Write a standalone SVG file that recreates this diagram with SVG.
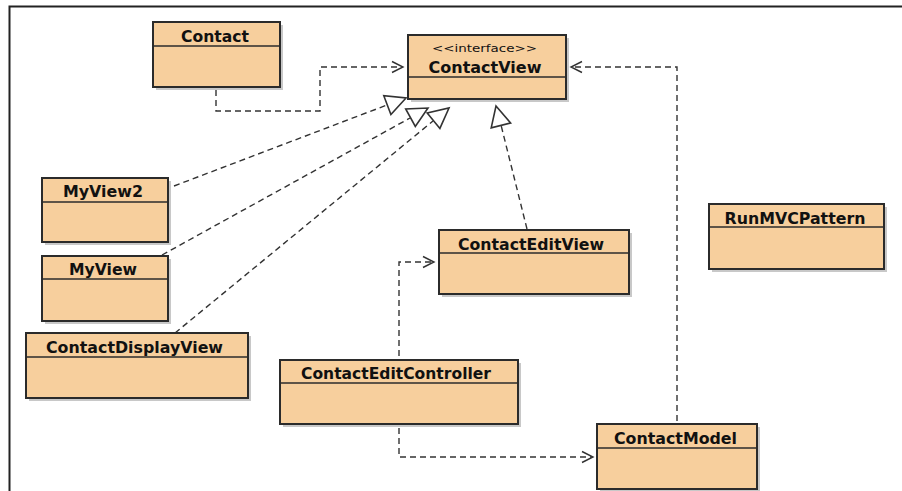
<svg xmlns="http://www.w3.org/2000/svg" width="902" height="491" viewBox="0 0 902 491">
<defs>
<style>
.box{fill:#F7CF9D;stroke:#2b2b2b;stroke-width:2}
.sh{fill:#9a9a9a;opacity:0.55}
.div{stroke:#2b2b2b;stroke-width:1.5}
.nm{font-family:"DejaVu Sans",sans-serif;font-weight:bold;font-size:15px;fill:#111;text-anchor:middle}
.st{font-family:"DejaVu Sans",sans-serif;font-size:10.5px;fill:#111;text-anchor:middle}
.dl{fill:none;stroke:#333;stroke-width:1.4;stroke-dasharray:6 4}
.ah{fill:none;stroke:#333;stroke-width:1.4}
.tri{fill:#fff;stroke:#333;stroke-width:1.6}
</style>
</defs>
<rect width="902" height="491" fill="#fff"/>
<path d="M9.5,491 V6.5 H902" fill="none" stroke="#222" stroke-width="2"/>

<g id="connectors">
<path class="dl" d="M216,90 V111 H320 V67 H402"/>
<path class="ah" d="M392,61.5 L403,67 L392,72.5"/>
<path class="dl" d="M677,421 V67 H572"/>
<path class="ah" d="M582,61.5 L571,67 L582,72.5"/>
<path class="dl" d="M399,356 V262 H433"/>
<path class="ah" d="M423,256.5 L434,262 L423,267.5"/>
<path class="dl" d="M399,428 V457 H592"/>
<path class="ah" d="M582,451.5 L593,457 L582,462.5"/>
<path class="dl" d="M174,186 L387,105"/>
<path class="tri" d="M406,98 L390.9,114.5 L383.8,95.7 Z"/>
<path class="dl" d="M162,255 L410,118"/>
<path class="tri" d="M428,108 L415.3,126.4 L405.7,108.9 Z"/>
<path class="dl" d="M175,333 L433,121"/>
<path class="tri" d="M449,108 L439.9,128.4 L427.2,113 Z"/>
<path class="dl" d="M527,229 L501,125"/>
<path class="tri" d="M496,106 L510.6,123 L491.2,127.8 Z"/>
</g>

<g id="Contact">
<rect class="sh" x="156" y="25" width="127" height="65"/>
<rect class="box" x="153" y="22" width="127" height="65"/>
<line class="div" x1="153" y1="46" x2="280" y2="46"/>
<text class="nm" x="215" y="42" textLength="68" lengthAdjust="spacingAndGlyphs">Contact</text>
</g>

<g id="ContactView">
<rect class="sh" x="411" y="38" width="158" height="64"/>
<rect class="box" x="408" y="35" width="158" height="64"/>
<line class="div" x1="408" y1="77" x2="566" y2="77"/>
<text class="st" x="484.5" y="52" textLength="105" lengthAdjust="spacingAndGlyphs">&lt;&lt;interface&gt;&gt;</text>
<text class="nm" x="485" y="73" textLength="113" lengthAdjust="spacingAndGlyphs">ContactView</text>
</g>

<g id="MyView2">
<rect class="sh" x="45" y="181" width="126" height="64"/>
<rect class="box" x="42" y="178" width="126" height="64"/>
<line class="div" x1="42" y1="202" x2="168" y2="202"/>
<text class="nm" x="103" y="197" textLength="80" lengthAdjust="spacingAndGlyphs">MyView2</text>
</g>

<g id="MyView">
<rect class="sh" x="45" y="259" width="126" height="65"/>
<rect class="box" x="42" y="256" width="126" height="65"/>
<line class="div" x1="42" y1="279" x2="168" y2="279"/>
<text class="nm" x="103" y="275" textLength="68" lengthAdjust="spacingAndGlyphs">MyView</text>
</g>

<g id="ContactDisplayView">
<rect class="sh" x="29" y="336" width="222" height="65"/>
<rect class="box" x="26" y="333" width="222" height="65"/>
<line class="div" x1="26" y1="357" x2="248" y2="357"/>
<text class="nm" x="134.5" y="353" textLength="177" lengthAdjust="spacingAndGlyphs">ContactDisplayView</text>
</g>

<g id="ContactEditView">
<rect class="sh" x="442" y="233" width="190" height="64"/>
<rect class="box" x="439" y="230" width="190" height="64"/>
<line class="div" x1="439" y1="253" x2="629" y2="253"/>
<text class="nm" x="531" y="250" textLength="146" lengthAdjust="spacingAndGlyphs">ContactEditView</text>
</g>

<g id="ContactEditController">
<rect class="sh" x="283" y="363" width="238" height="64"/>
<rect class="box" x="280" y="360" width="238" height="64"/>
<line class="div" x1="280" y1="383" x2="518" y2="383"/>
<text class="nm" x="396" y="379" textLength="190" lengthAdjust="spacingAndGlyphs">ContactEditController</text>
</g>

<g id="ContactModel">
<rect class="sh" x="600" y="427" width="160" height="64"/>
<rect class="box" x="597" y="424" width="160" height="65"/>
<line class="div" x1="597" y1="448" x2="757" y2="448"/>
<text class="nm" x="675.5" y="444" textLength="123" lengthAdjust="spacingAndGlyphs">ContactModel</text>
</g>

<g id="RunMVCPattern">
<rect class="sh" x="712" y="207" width="175" height="65"/>
<rect class="box" x="709" y="204" width="175" height="65"/>
<line class="div" x1="709" y1="227" x2="884" y2="227"/>
<text class="nm" x="795" y="224" textLength="141" lengthAdjust="spacingAndGlyphs">RunMVCPattern</text>
</g>
</svg>
